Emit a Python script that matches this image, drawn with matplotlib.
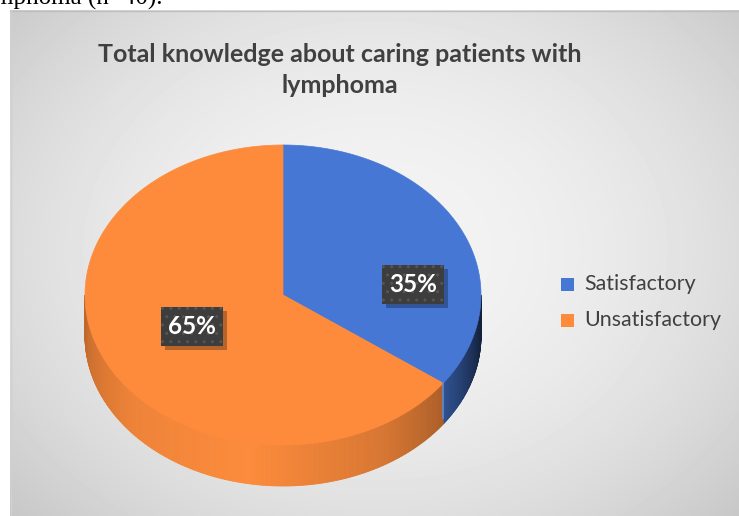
import numpy as np
import matplotlib
matplotlib.use("Agg")
import matplotlib.pyplot as plt
from matplotlib.patches import Polygon, Rectangle
import matplotlib.colors as mcolors

# ---- data ----
categories = ["Satisfactory", "Unsatisfactory"]
values = [35, 65]
pct_labels = ["35%", "65%"]
colors = ["#4677D4", "#FD8B3B"]
title = "Total knowledge about caring patients with\nlymphoma"
caption = "mphoma (n=40)."

W, H = 739, 516
fig = plt.figure(figsize=(W / 100, H / 100), dpi=100)
ax = fig.add_axes([0, 0, 1, 1])
ax.set_xlim(0, W)
ax.set_ylim(H, 0)
ax.axis("off")

FONT = ["Lato", "DejaVu Sans"]

# ---- chart area background (radial grey gradient) ----
px0, py0 = 10, 10
yy, xx = np.mgrid[py0:H, px0:W]
d2 = ((xx - 375) / 420.0) ** 2 + ((yy - 250) / 330.0) ** 2
g = np.clip(0.955 - 0.125 * d2, 0, 1)
ax.imshow(g, cmap="gray", vmin=0, vmax=1, extent=[px0, W, H, py0],
          aspect="auto", interpolation="bilinear", zorder=0)
ax.plot([px0, W], [py0 + 0.5, py0 + 0.5], color="#BEBEBE", lw=1, zorder=1)
ax.plot([px0 + 0.5, px0 + 0.5], [py0, H], color="#D0D0D0", lw=1, zorder=1)

# caption text above the chart (cropped at the top, as in the source image)
ax.text(-6, 5, caption, fontsize=18, family=["Liberation Serif"],
        color="black", ha="left", va="baseline", zorder=2)

# ---- 3D pie geometry ----
cx, cy, rx, ry, depth = 283, 295, 198, 150, 41


def pt(theta_deg):
    t = np.radians(theta_deg)
    return cx + rx * np.sin(t), cy - ry * np.cos(t)


shade_t = [90, 100, 110, 126, 150, 190, 230, 260, 270]
shade_f = [0.25, 0.32, 0.45, 0.68, 0.85, 1.0, 0.94, 0.8, 0.74]

total = float(sum(values))
starts = []
a = 0.0
for v in values:
    starts.append((a, a + 360.0 * v / total))
    a += 360.0 * v / total

# side walls (visible between 90 and 270 degrees clockwise from top)
for (a0, a1), col in zip(starts, colors):
    lo, hi = max(a0, 90), min(a1, 270)
    if hi <= lo:
        continue
    base = np.array(mcolors.to_rgb(col))
    edges = np.linspace(lo, hi, int((hi - lo) / 0.5) + 2)
    for t0, t1 in zip(edges[:-1], edges[1:]):
        f = np.interp(0.5 * (t0 + t1), shade_t, shade_f)
        c = np.clip(base * f, 0, 1)
        x0, y0 = pt(t0)
        x1, y1 = pt(t1)
        poly = Polygon([(x0, y0), (x1, y1), (x1, y1 + depth), (x0, y0 + depth)],
                       closed=True, fc=c, ec=c, lw=0.6, zorder=3)
        ax.add_patch(poly)

# top faces
for (a0, a1), col in zip(starts, colors):
    ts = np.linspace(a0, a1, 200)
    pts = [(cx, cy)] + [pt(t) for t in ts]
    ax.add_patch(Polygon(pts, closed=True, fc=col, ec=col, lw=0.5, zorder=4))

# thin light edge at the visible cut
bx, by = pt(starts[0][1])
ax.plot([bx, bx], [by, by + depth - 6], color="#5B86D8", lw=1.2, zorder=5)

# ---- data labels ----
label_pos = [(413, 284), (192, 326)]
for (lx, ly), lab in zip(label_pos, pct_labels):
    w, h = 62, 39
    ax.add_patch(Rectangle((lx - w / 2 + 4, ly - h / 2 + 4), w, h,
                           fc="black", ec="none", alpha=0.28, zorder=6))
    ax.add_patch(Rectangle((lx - w / 2, ly - h / 2), w, h,
                           fc="#3D3D3D", ec="#555555", lw=0, hatch="..",
                           zorder=7))
    ax.text(lx, ly + 1, lab, fontsize=17.5, fontweight="bold", family=FONT,
            color="white", ha="center", va="center", zorder=8)

# ---- title ----
ax.text(340, 70, title, fontsize=18, fontweight="bold", family=FONT,
        color="#404040", ha="center", va="center", linespacing=1.4, zorder=8)

# ---- legend ----
leg_y = [284, 320]
for yv, col, cat in zip(leg_y, colors, categories):
    ax.add_patch(Rectangle((561, yv - 6.5), 13, 13, fc=col, ec="none", zorder=8))
    ax.text(584, yv, cat, fontsize=15.4, family=FONT, color="#404040",
            ha="left", va="center", zorder=8)

fig.savefig("out.png", dpi=100)
